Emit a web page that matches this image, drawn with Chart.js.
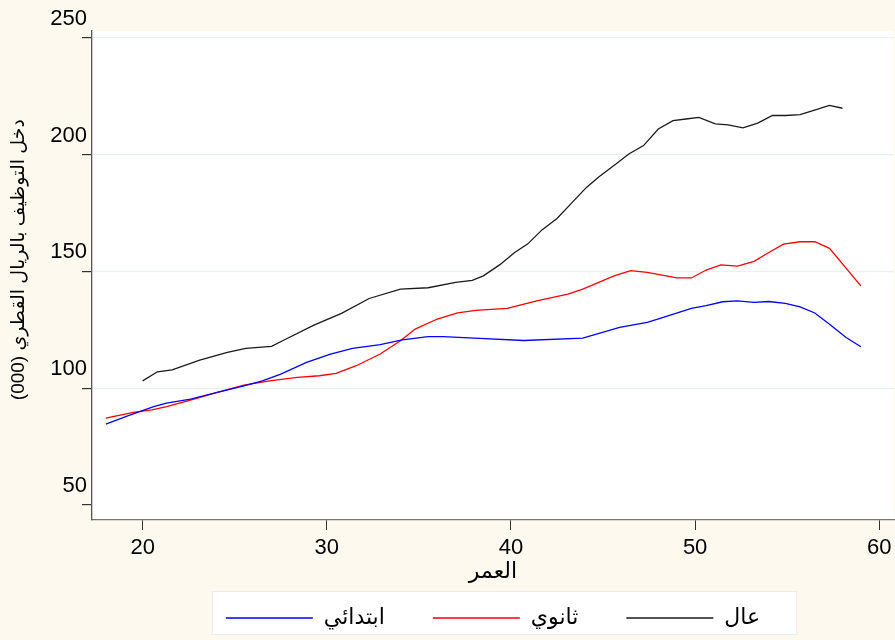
<!DOCTYPE html>
<html>
<head>
<meta charset="utf-8">
<script src="https://cdn.jsdelivr.net/npm/chart.js@4"></script>
<style>
  html, body { margin: 0; padding: 0; background: #fdf9ee; }
  canvas { display: block; }
</style>
</head>
<body>
<canvas id="grafico" width="895" height="640"></canvas>
<script>
// العمر / دخل التوظيف (000 ريال) - قراءة تقريبية من الرسم
const seriesNames = ['ابتدائي', 'ثانوي', 'عال'];
const seriesColors = ['#0000ff', '#ff0000', '#1a1a1a'];

const agePrimary = [18.0, 19.3, 20.6, 21.3, 22.6, 24.0, 25.5, 26.5, 27.5, 28.9, 30.2, 31.4, 32.9, 34.1, 35.5, 36.3, 38.3, 40.7, 43.9, 45.9, 47.4, 48.1, 49.8, 50.6, 51.5, 52.3, 53.2, 54.0, 54.9, 55.7, 56.5, 57.3, 58.2, 59.0];
const incomePrimary = [84.6, 88.4, 92.1, 93.6, 95.3, 98.1, 101.0, 103.1, 106.0, 111.0, 114.6, 117.0, 118.6, 120.7, 122.1, 122.1, 121.3, 120.4, 121.4, 126.0, 128.2, 129.9, 134.2, 135.3, 137.0, 137.4, 136.7, 137.1, 136.3, 134.8, 132.2, 127.4, 121.7, 117.7];

const ageSecondary = [18.0, 19.5, 20.5, 21.3, 22.6, 24.0, 25.5, 26.9, 28.4, 29.6, 30.5, 31.6, 32.9, 34.0, 34.8, 36.0, 37.1, 38.1, 39.8, 41.4, 43.1, 43.9, 45.6, 46.5, 47.4, 49.0, 49.8, 50.6, 51.4, 52.3, 53.2, 54.0, 54.8, 55.7, 56.5, 57.3, 59.0];
const incomeSecondary = [87.1, 89.6, 90.7, 92.1, 94.9, 98.1, 101.3, 103.1, 104.6, 105.3, 106.3, 109.6, 114.6, 120.3, 125.3, 129.6, 132.2, 133.3, 134.2, 137.4, 140.3, 142.4, 148.1, 150.3, 149.6, 147.2, 147.2, 150.6, 152.8, 152.3, 154.3, 158.1, 161.7, 162.7, 162.7, 159.9, 143.8];

const ageHigher = [20.0, 20.8, 21.6, 23.1, 24.6, 25.6, 27.0, 27.6, 29.3, 30.8, 32.3, 34.0, 35.5, 37.0, 37.9, 38.5, 39.4, 40.2, 40.9, 41.7, 42.5, 43.2, 44.1, 44.8, 45.7, 46.4, 47.2, 48.0, 48.8, 49.5, 50.2, 51.1, 51.8, 52.6, 53.4, 54.2, 54.9, 55.7, 56.4, 57.3, 58.0];
const incomeHigher = [103.1, 107.0, 107.8, 112.0, 115.3, 117.0, 117.9, 120.3, 127.0, 132.0, 138.4, 142.4, 143.0, 145.3, 146.2, 148.1, 152.9, 158.1, 161.7, 167.9, 172.7, 178.5, 186.0, 190.7, 196.0, 200.3, 203.9, 211.0, 214.6, 215.3, 216.0, 213.2, 212.8, 211.5, 213.5, 216.8, 216.8, 217.2, 218.9, 221.1, 219.9];

const xTicks = [20, 30, 40, 50, 60];
const yTicks = [50, 100, 150, 200, 250];

const xTitle = 'العمر';
// leading spaces nudge the rotated title up a little, like the original
const yTitle = '      دخل التوظيف بالريال القطري (000)';

const fontFamily = "'Liberation Sans', Arial, 'DejaVu Sans', sans-serif";

function toPoints(ages, values) {
    return ages.map((a, i) => ({ x: a, y: values[i] }));
}

const fondo = {
    id: 'fondo',
    beforeDraw(chart) {
        const ctx = chart.ctx;
        const area = chart.chartArea;
        ctx.save();
        ctx.fillStyle = '#fdf9ee';
        ctx.fillRect(0, 0, chart.width, chart.height);
        ctx.fillStyle = '#ffffff';
        ctx.fillRect(area.left, area.top, area.right - area.left, area.bottom - area.top);

        const boxes = chart.legend.legendHitBoxes;
        if (boxes && boxes.length) {
            const first = boxes[0];
            const last = boxes[boxes.length - 1];
            const x0 = first.left - 14;
            const x1 = last.left + last.width + 36;
            ctx.fillStyle = '#ffffff';
            ctx.fillRect(x0, 591, x1 - x0, 43);
            ctx.strokeStyle = '#ececec';
            ctx.lineWidth = 1;
            ctx.strokeRect(x0 + 0.5, 591.5, x1 - x0, 43);
        }
        ctx.restore();
    }
};

const datasets = [
    toPoints(agePrimary, incomePrimary),
    toPoints(ageSecondary, incomeSecondary),
    toPoints(ageHigher, incomeHigher)
].map((pts, i) => ({
    label: seriesNames[i],
    data: pts,
    borderColor: seriesColors[i],
    backgroundColor: seriesColors[i],
    borderWidth: 1.3,
    pointRadius: 0,
    tension: 0,
    fill: false
}));

new Chart(document.getElementById('grafico').getContext('2d'), {
    type: 'line',
    data: { datasets: datasets },
    plugins: [fondo],
    options: {
        responsive: false,
        animation: false,
        devicePixelRatio: 1,
        layout: { padding: { top: 31, right: 1, bottom: 1, left: 0 } },
        plugins: {
            tooltip: { enabled: false },
            legend: {
                position: 'bottom',
                fullSize: false,
                labels: {
                    boxWidth: 87,
                    boxHeight: 0,
                    padding: 48,
                    color: '#000',
                    font: { family: fontFamily, size: 22 }
                }
            }
        },
        scales: {
            x: {
                type: 'linear',
                min: 17.25,
                max: 60.8,
                afterBuildTicks: s => { s.ticks = xTicks.map(v => ({ value: v })); },
                afterFit: s => { s.height = 39; s.paddingRight = 0; s.paddingLeft = 0; },
                grid: { drawOnChartArea: false, tickLength: 10, tickColor: '#333' },
                border: { color: '#777', width: 1.3 },
                ticks: {
                    color: '#000',
                    padding: 5,
                    font: { family: fontFamily, size: 22 }
                },
                title: {
                    display: true,
                    text: xTitle,
                    color: '#000',
                    padding: { top: 0, bottom: -26 },
                    font: { family: fontFamily, size: 22 }
                }
            },
            y: {
                type: 'linear',
                min: 43.5,
                max: 253,
                afterBuildTicks: s => { s.ticks = yTicks.map(v => ({ value: v })); },
                afterFit: s => { s.width = 92; },
                grid: {
                    color: c => (c.tick && c.tick.value === 50) ? 'rgba(0,0,0,0)' : '#e9f1f1',
                    tickColor: '#333',
                    tickLength: 10,
                    lineWidth: 1.2
                },
                border: { color: '#555', width: 1.3 },
                ticks: {
                    color: '#000',
                    padding: -5,
                    labelOffset: -19,
                    font: { family: fontFamily, size: 22 }
                },
                title: {
                    display: true,
                    text: yTitle,
                    color: '#000',
                    padding: { top: 7, bottom: 0 },
                    font: { family: fontFamily, size: 19 }
                }
            }
        }
    }
});
</script>
</body>
</html>
